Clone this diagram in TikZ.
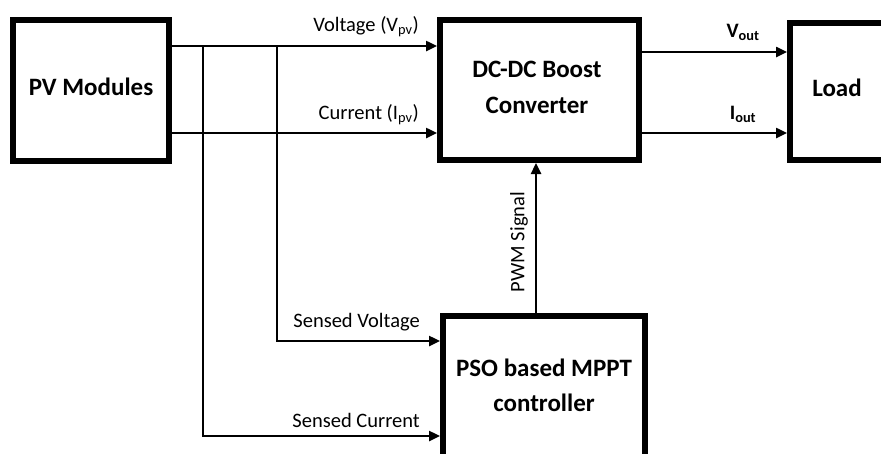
\documentclass[tikz,border=0pt]{standalone}
\usepackage{fontspec}
\setmainfont{Carlito}
\usetikzlibrary{arrows.meta}
\begin{document}
\begin{tikzpicture}[x=1pt,y=-1pt,
  blk/.style={draw,line width=6pt,fill=white},
  conn/.style={line width=2.4pt},
  arr/.style={conn,-{Triangle[length=11pt,width=10pt]}},
  big/.style={font=\fontsize{25}{36}\selectfont\bfseries,align=center},
  lbl/.style={font=\fontsize{20.5}{24}\selectfont,inner sep=0pt}]
\useasboundingbox (0,0) rectangle (881,453);
\begin{scope}
\clip (0,0) rectangle (881,453);
% boxes
\draw[blk] (13,20) rectangle (169,161);
\draw[blk] (440,20) rectangle (639,160);
\draw[blk] (790,23) rectangle (900,160);
\draw[blk] (443,316) rectangle (645,470);
\node[big] (pv) at (91,87) {PV Modules};
\node[big] (dc) at (537,87) {DC-DC Boost\\Converter};
\node[big] (load) at (837,88) {Load};
\node[big,font=\fontsize{25}{35}\selectfont\bfseries] (pso) at (544,385) {PSO based MPPT\\controller};
% coordinates
\coordinate (pvv) at (169,46);
\coordinate (pvi) at (169,133);
\coordinate (dcv) at (437,46);
\coordinate (dci) at (437,133);
\coordinate (j1) at (203,46);
\coordinate (j2) at (277,46);
\coordinate (psv) at (440,341);
\coordinate (psi) at (440,436);
\coordinate (dco) at (642,52);
\coordinate (dcio) at (642,133);
\coordinate (ldv) at (787,52);
\coordinate (ldi) at (787,133);
\coordinate (pwmb) at (536,313);
\coordinate (pwmt) at (536,163);
\end{scope}
% connectors
\draw[arr] (pvv) -- (dcv);
\draw[arr] (pvi) -- (dci);
\draw[arr] (j1) -- (j1 |- psi) -- (psi);
\draw[arr] (j2) -- (j2 |- psv) -- (psv);
\draw[arr] (dco) -- (ldv);
\draw[arr] (dcio) -- (ldi);
\draw[arr] (pwmb) -- (pwmt);
% labels
\node[lbl,anchor=east] (lv) at (419,27) {Voltage (V\textsubscript{pv})};
\node[lbl,anchor=east] (li) at (419,115) {Current (I\textsubscript{pv})};
\node[lbl,font=\fontsize{20.5}{24}\selectfont\bfseries] (lvo) at (743,32) {V\textsubscript{out}};
\node[lbl,font=\fontsize{20.5}{24}\selectfont\bfseries] (lio) at (743,114) {I\textsubscript{out}};
\node[lbl,anchor=east] (lsv) at (420,322) {Sensed Voltage};
\node[lbl,anchor=east] (lsi) at (420,420) {Sensed Current};
\node[lbl,rotate=90] (lpwm) at (519,242) {PWM Signal};
\end{tikzpicture}
\end{document}
